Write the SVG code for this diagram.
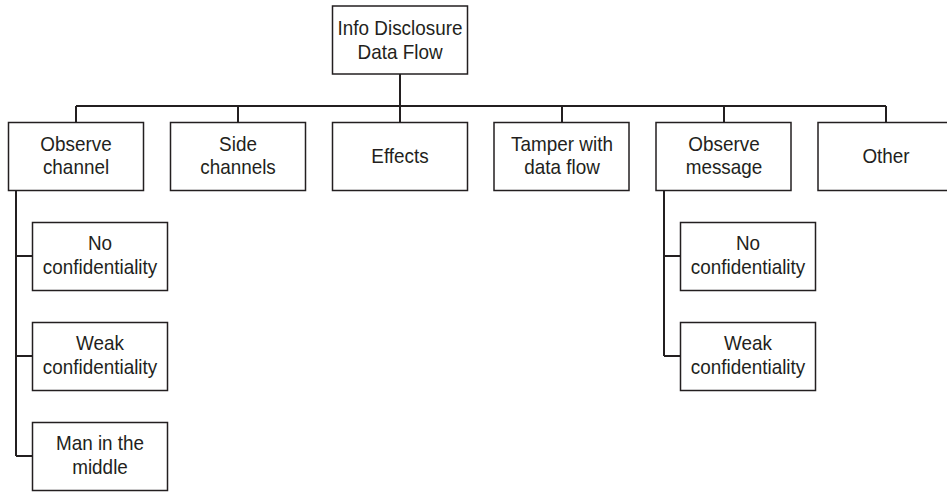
<svg xmlns="http://www.w3.org/2000/svg" width="947" height="492" viewBox="0 0 947 492">
<style>
.box{fill:#fff;stroke:#231f20;stroke-width:1.5}
.lbl{font-family:"Liberation Sans",Arial,sans-serif;font-size:21px;fill:#231f20;text-anchor:middle}
.con{fill:none;stroke:#231f20;stroke-width:2}
</style>
<rect width="947" height="492" fill="#fff"/>
<g id="connectors">
<path class="con" d="M400,74V106M76,106H886M76,106V122M238,106V122M400,106V122M562,106V122M724,106V122M886,106V122"/>
<path class="con" d="M16,190V456M16,256H32M16,356H32M16,456H32"/>
<path class="con" d="M664,190V356M664,256H680M664,356H680"/>
</g>
<g id="root"><rect class="box" x="332.5" y="6" width="135" height="68"/><text class="lbl" transform="translate(400,35) scale(0.9,1)">Info Disclosure</text><text class="lbl" transform="translate(400,59) scale(0.9,1)">Data Flow</text></g>
<g id="observe-channel"><rect class="box" x="8.5" y="122.5" width="135" height="68"/><text class="lbl" transform="translate(76,151) scale(0.9,1)">Observe</text><text class="lbl" transform="translate(76,174) scale(0.9,1)">channel</text></g>
<g id="side-channels"><rect class="box" x="170.5" y="122.5" width="135" height="68"/><text class="lbl" transform="translate(238,151) scale(0.9,1)">Side</text><text class="lbl" transform="translate(238,174) scale(0.9,1)">channels</text></g>
<g id="effects"><rect class="box" x="332.5" y="122.5" width="135" height="68"/><text class="lbl" transform="translate(400,162.5) scale(0.9,1)">Effects</text></g>
<g id="tamper"><rect class="box" x="494" y="122.5" width="135" height="68"/><text class="lbl" transform="translate(562,151) scale(0.9,1)">Tamper with</text><text class="lbl" transform="translate(562,174) scale(0.9,1)">data flow</text></g>
<g id="observe-message"><rect class="box" x="656" y="122.5" width="135" height="68"/><text class="lbl" transform="translate(724,151) scale(0.9,1)">Observe</text><text class="lbl" transform="translate(724,174) scale(0.9,1)">message</text></g>
<g id="other"><rect class="box" x="818" y="122.5" width="136" height="68"/><text class="lbl" transform="translate(886,162.5) scale(0.9,1)">Other</text></g>
<g id="oc-no-conf"><rect class="box" x="32.5" y="222.5" width="135" height="68"/><text class="lbl" transform="translate(100,250) scale(0.9,1)">No</text><text class="lbl" transform="translate(100,274) scale(0.9,1)">confidentiality</text></g>
<g id="oc-weak-conf"><rect class="box" x="32.5" y="322.5" width="135" height="68"/><text class="lbl" transform="translate(100,350) scale(0.9,1)">Weak</text><text class="lbl" transform="translate(100,374) scale(0.9,1)">confidentiality</text></g>
<g id="oc-mitm"><rect class="box" x="32.5" y="422.5" width="135" height="68"/><text class="lbl" transform="translate(100,450) scale(0.9,1)">Man in the</text><text class="lbl" transform="translate(100,474) scale(0.9,1)">middle</text></g>
<g id="om-no-conf"><rect class="box" x="680.5" y="222.5" width="135" height="68"/><text class="lbl" transform="translate(748,250) scale(0.9,1)">No</text><text class="lbl" transform="translate(748,274) scale(0.9,1)">confidentiality</text></g>
<g id="om-weak-conf"><rect class="box" x="680.5" y="322.5" width="135" height="68"/><text class="lbl" transform="translate(748,350) scale(0.9,1)">Weak</text><text class="lbl" transform="translate(748,374) scale(0.9,1)">confidentiality</text></g>
</svg>
